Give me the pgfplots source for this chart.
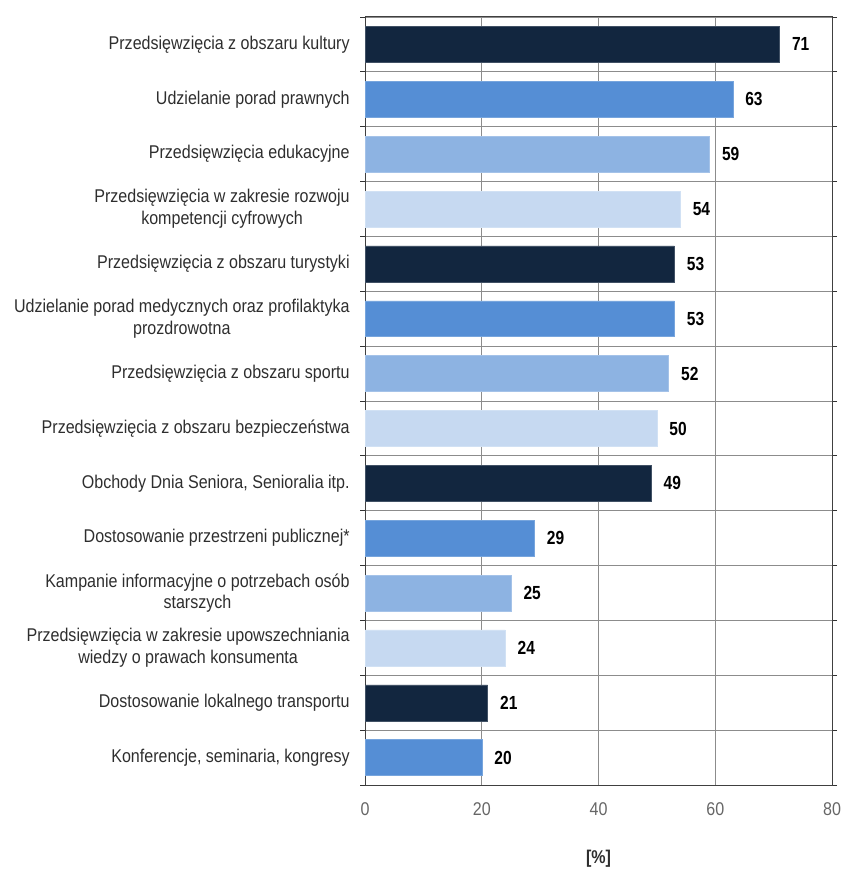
\documentclass[border=0pt]{standalone}
\usepackage{pgfplots}
\pgfplotsset{compat=1.18}
\usepackage{fontspec}
\setmainfont{Liberation Sans}[FakeStretch=0.87]
\newfontfamily\numfont{Liberation Sans}[FakeStretch=0.82]
\definecolor{cA}{HTML}{12263F}
\definecolor{cB}{HTML}{558ED5}
\definecolor{cC}{HTML}{8DB3E2}
\definecolor{cD}{HTML}{C6D9F1}
\definecolor{gridc}{HTML}{8C8C8C}
\definecolor{txt}{HTML}{2E2E2E}
\begin{document}
\begin{tikzpicture}
\begin{axis}[
  scale only axis,
  width=468pt, height=770pt,
  xbar, bar width=0.655, bar shift=0pt,
  xmin=0, xmax=80, xtick={0,20,40,60,80},
  ymin=-0.5, ymax=13.5, y dir=reverse,
  ytick={0,...,13},
  yticklabels={
    {Przedsięwzięcia z obszaru kultury},
    {Udzielanie porad prawnych},
    {Przedsięwzięcia edukacyjne},
    {Przedsięwzięcia w zakresie rozwoju\\kompetencji cyfrowych},
    {Przedsięwzięcia z obszaru turystyki},
    {Udzielanie porad medycznych oraz profilaktyka\\prozdrowotna},
    {Przedsięwzięcia z obszaru sportu},
    {Przedsięwzięcia z obszaru bezpieczeństwa},
    {Obchody Dnia Seniora, Senioralia itp.},
    {Dostosowanie przestrzeni publicznej*},
    {Kampanie informacyjne o potrzebach osób\\starszych},
    {Przedsięwzięcia w zakresie upowszechniania\\wiedzy o prawach konsumenta},
    {Dostosowanie lokalnego transportu},
    {Konferencje, seminaria, kongresy}},
  minor ytick={-0.5,0.5,...,13.5},
  major tick length=0pt,
  minor tick length=5pt,
  tick align=outside,
  ymajorgrids=false, yminorgrids=true, xmajorgrids=true,
  grid style={gridc, line width=0.9pt},
  minor grid style={gridc, line width=0.9pt},
  minor tick style={black!80, line width=0.9pt},
  axis line style={black!75, line width=1pt},
  yticklabel style={align=center, font=\fontsize{18.5}{22}\selectfont, text=txt, xshift=-12pt},
  xticklabel style={font=\fontsize{18.5}{22}\selectfont, text=black!60, yshift=-14pt},
  /pgf/number format/assume math mode=true,
  xlabel={\bfseries [\%]},
  xlabel style={font=\fontsize{18.5}{22}\selectfont, text=txt, yshift=-28pt},
  point meta=x,
  nodes near coords,
  nodes near coords style={font=\numfont\bfseries\fontsize{19}{22}\selectfont, text=black, xshift=9pt},
  clip=false,
]
\addplot[fill=cA, draw=cA!80!white, line width=0.5pt] coordinates {(71,0) (53,4) (49,8) (21,12)};
\addplot[fill=cB, draw=cB!80!white, line width=0.5pt] coordinates {(63,1) (53,5) (29,9) (20,13)};
\addplot[fill=cC, draw=cC!80!white, line width=0.5pt] coordinates {(59,2) (52,6) (25,10)};
\addplot[fill=cD, draw=cD!80!white, line width=0.5pt] coordinates {(54,3) (50,7) (24,11)};
\path ([xshift=-366pt,yshift=-84pt]axis description cs:0,0) rectangle ([xshift=13pt,yshift=17pt]axis description cs:1,1);
\end{axis}
\end{tikzpicture}
\end{document}
